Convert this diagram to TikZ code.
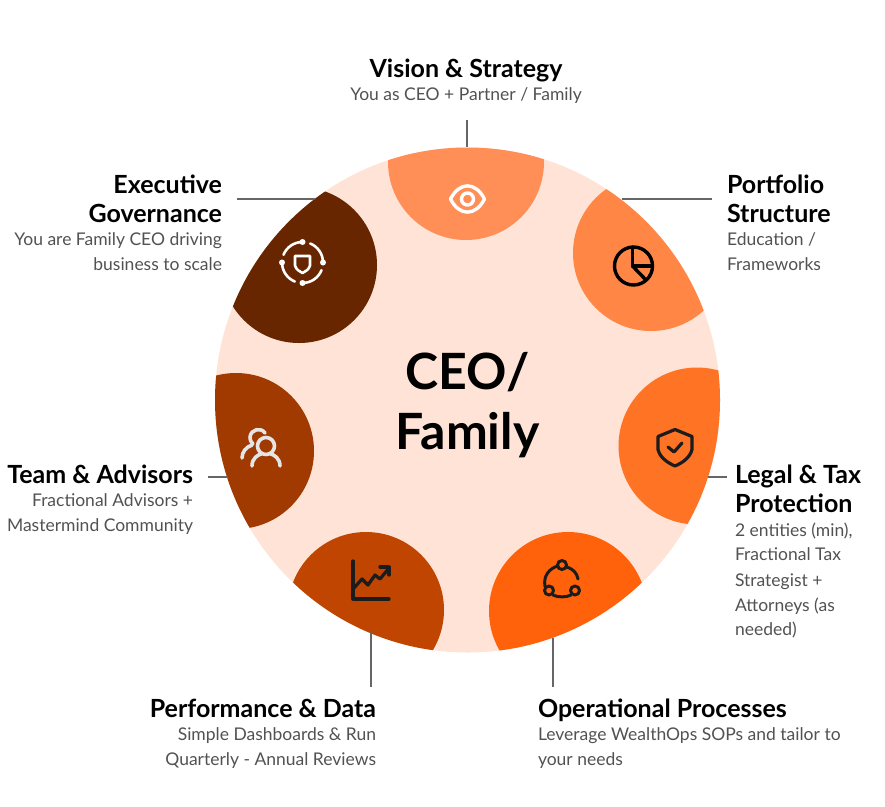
\documentclass[tikz,border=0pt]{standalone}
\usepackage{fontspec}
\setmainfont{Lato}
\newfontfamily\titlefont{Lato}
\tikzset{
  px/.style={x=1pt,y=-1pt},
  ttl/.style={font=\titlefont\bfseries\fontsize{25}{29}\selectfont,text=black,inner sep=0pt,outer sep=0pt},
  big/.style={font=\titlefont\bfseries\fontsize{50}{60}\selectfont,text=black,inner sep=0pt,outer sep=0pt},
  sub/.style={font=\fontsize{17.5}{25}\selectfont,text=black!68,inner sep=0pt,outer sep=0pt},
  lead/.style={draw=black!60,line width=1.2pt},
  ico/.style={line width=3pt,line cap=round,line join=round},
}
\definecolor{bgc}{HTML}{FFE3D6}
\definecolor{c1}{HTML}{FF8F57}
\definecolor{c2}{HTML}{FF8645}
\definecolor{c3}{HTML}{FF7324}
\definecolor{c4}{HTML}{FF620A}
\definecolor{c5}{HTML}{C04500}
\definecolor{c6}{HTML}{A13A00}
\definecolor{c7}{HTML}{682600}
\definecolor{icg}{HTML}{1C1C1C}
\begin{document}
\begin{tikzpicture}[px]
\useasboundingbox (0,0) rectangle (885,806);
\fill[white] (0,0) rectangle (885,806);
\fill[bgc] (467.5,400) circle[radius=252.5];
\begin{scope}
\clip (467.5,400) circle[radius=252.5];
\fill[c1] (466,162) circle[radius=78];
\fill[c2] (651,253) circle[radius=78];
\fill[c3] (697,446) circle[radius=78.5];
\fill[c4] (568,611) circle[radius=79];
\fill[c5] (366,610) circle[radius=78];
\fill[c6] (236,451) circle[radius=78];
\fill[c7] (299,265) circle[radius=78];
\end{scope}
% centre
\node[big,anchor=base] (ceo) at (467.5,389) {CEO/};
\node[big,anchor=base] (fam) at (467.5,449) {Family};
% labels
\node[ttl,anchor=base] (visT) at (466,77) {Vision \& Strategy};
\node[sub,anchor=base] (visS) at (466,100) {You as CEO + Partner / Family};
\node[ttl,anchor=base east,align=right] (exeT) at (222,193) {Executive};
\node[ttl,anchor=base east] (exeU) at (222,222) {Governance};
\node[sub,anchor=base east] (exeS) at (222,245) {You are Family CEO driving};
\node[sub,anchor=base east] (exeV) at (222,270) {business to scale};
\node[ttl,anchor=base west] (porT) at (727,193) {Portfolio};
\node[ttl,anchor=base west] (porU) at (727,222) {Structure};
\node[sub,anchor=base west] (porS) at (727,245) {Education /};
\node[sub,anchor=base west] (porV) at (727,270) {Frameworks};
\node[ttl,anchor=base west] (legT) at (735,483) {Legal \& Tax};
\node[ttl,anchor=base west] (legU) at (735,512) {Protection};
\node[sub,anchor=base west] (legA) at (735,536) {2 entities (min),};
\node[sub,anchor=base west] (legB) at (735,560) {Fractional Tax};
\node[sub,anchor=base west] (legC) at (735,586) {Strategist +};
\node[sub,anchor=base west] (legD) at (735,611) {Attorneys (as};
\node[sub,anchor=base west] (legE) at (735,635) {needed)};
\node[ttl,anchor=base west] (opsT) at (538,717) {Operational Processes};
\node[sub,anchor=base west] (opsS) at (538,740) {Leverage WealthOps SOPs and tailor to};
\node[sub,anchor=base west] (opsV) at (538,765) {your needs};
\node[ttl,anchor=base east] (perT) at (376,717) {Performance \& Data};
\node[sub,anchor=base east] (perS) at (376,740) {Simple Dashboards \& Run};
\node[sub,anchor=base east] (perV) at (376,765) {Quarterly - Annual Reviews};
\node[ttl,anchor=base east] (teaT) at (193,483) {Team \& Advisors};
\node[sub,anchor=base east] (teaS) at (193,506) {Fractional Advisors +};
\node[sub,anchor=base east] (teaV) at (193,531) {Mastermind Community};
% connector ends
\coordinate (a1) at (467,120); \coordinate (b1) at (467,147);
\coordinate (a2) at (712,199); \coordinate (b2) at (622,199);
\coordinate (a3) at (727,477); \coordinate (b3) at (708,477);
\coordinate (a4) at (553,687); \coordinate (b4) at (553,638);
\coordinate (a5) at (371,687); \coordinate (b5) at (371,632);
\coordinate (a6) at (208,477); \coordinate (b6) at (228,477);
\coordinate (a7) at (237,199); \coordinate (b7) at (315,199);
\foreach \i in {1,...,7} \draw[lead] (a\i) -- (b\i);
% eye icon
\begin{scope}[shift={(467.5,199)},ico,draw=white,line width=3.4pt]
\draw (-17,0) .. controls (-8,-17.5) and (8,-17.5) .. (17,0) .. controls (8,17.5) and (-8,17.5) .. (-17,0) -- cycle;
\draw (0,0) circle[radius=6];
\end{scope}
% pie icon
\begin{scope}[shift={(633.5,266)},ico,draw=black,line width=3.4pt]
\draw (0,0) circle[radius=19];
\draw (-1,-19) -- (-1,0) -- (18,0);
\draw (-1,0) -- (12.5,14);
\end{scope}
% shield check
\begin{scope}[shift={(675,447.5)},ico,draw=icg,line width=3.2pt]
\draw (0,-18) -- (17,-11) -- (17,2) .. controls (15,10) and (8,15) .. (0,18.5) .. controls (-8,15) and (-15,10) .. (-17,2) -- (-17,-11) -- cycle;
\draw (-7,-0.5) -- (-1,4.5) -- (7,-4.5);
\end{scope}
% network circle
\begin{scope}[shift={(561,579)},ico,draw=icg,line width=3pt]
\draw (1,-14) circle[radius=4.5];
\draw (-12,11.5) circle[radius=4.5];
\draw (14,11.5) circle[radius=4.5];
\draw (-3.5,-13) .. controls (-11,-10.5) and (-18,-4) .. (-16,7.5);
\draw (6,-12) .. controls (12,-10) and (16,-6) .. (17,0);
\draw (-8,16) .. controls (-3,18.5) and (5,18.5) .. (10,16);
\end{scope}
% chart icon
\begin{scope}[shift={(371,580)},ico,draw=icg,line width=3.2pt]
\draw (-18,-19) -- (-18,19) -- (18,19);
\draw (-17,8) -- (-9,-1) -- (-3,5) -- (4,-5) -- (9,-1) -- (18,-12);
\draw (9,-13) -- (18,-13) -- (18,-5);
\end{scope}
% people icon
\begin{scope}[shift={(261,447)},ico,draw=black!10,line width=3.6pt]
\draw (5,-1) circle[radius=8.5];
\draw (-9,19) .. controls (-9,11) and (-3,8) .. (0,7);
\draw (19,19) .. controls (19,11) and (13,8) .. (10,7);
\draw (4,-14) .. controls (0,-20) and (-10,-18) .. (-11,-10) .. controls (-11,-6) and (-9,-4) .. (-8,-3);
\draw (-9,-2) .. controls (-15,0) and (-19,5) .. (-19,11);
\end{scope}
% governance icon
\begin{scope}[shift={(302.5,262.5)},ico,draw=white,line width=2.6pt]
\draw (-68:20.5) arc[start angle=-68,end angle=0,radius=20.5];
\draw (22:20.5) arc[start angle=22,end angle=90,radius=20.5];
\draw (112:20.5) arc[start angle=112,end angle=180,radius=20.5];
\draw (202:20.5) arc[start angle=202,end angle=270,radius=20.5];
\fill[white] (0,-20.5) circle[radius=3];
\fill[white] (20.5,0) circle[radius=3];
\fill[white] (0,20.5) circle[radius=3];
\fill[white] (-20.5,0) circle[radius=3];
\draw (-7.5,-6.5) -- (7.5,-6.5) -- (7.5,3) .. controls (6.5,7) and (3,9) .. (0,10.5) .. controls (-3,9) and (-6.5,7) .. (-7.5,3) -- cycle;
\end{scope}
\end{tikzpicture}
\end{document}
